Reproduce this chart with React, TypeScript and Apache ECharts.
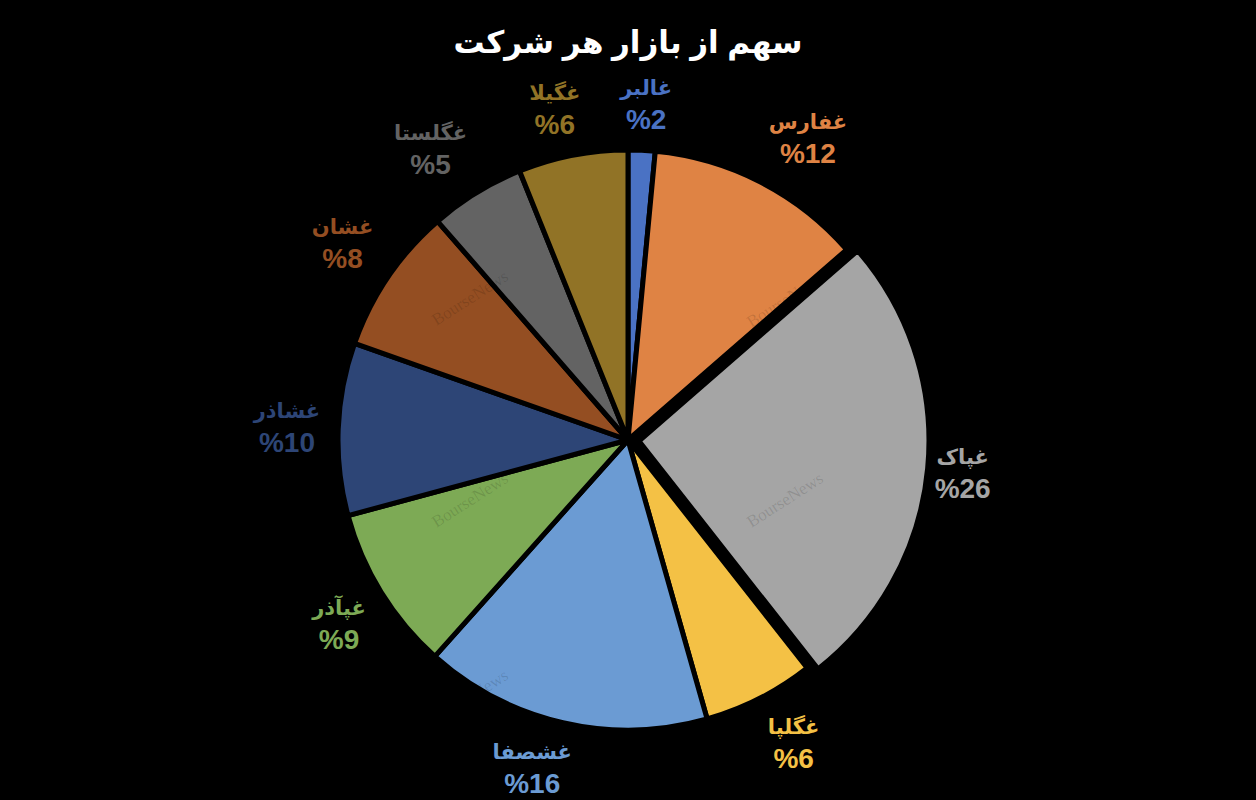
import React, { useEffect, useRef } from "react";
import * as echarts from "echarts";

const categories = ["غالبر", "غفارس", "غپاک", "غگلپا", "غشصفا", "غپآذر", "غشاذر", "غشان", "غگلستا", "غگیلا"];
const shares = [1.5, 12.1, 25.8, 6.2, 16.0, 9.2, 9.6, 8.2, 5.3, 6.1];
const colors = ["#4A72C4", "#DF8344", "#A5A5A5", "#F4C145", "#6B9BD3", "#7DAA55", "#2D4576", "#944E22", "#636363", "#917326"];
const exploded = ["غپاک"];
const titleText = "سهم از بازار هر شرکت";
const watermark = "BourseNews";

export default function App() {
  const ref = useRef<HTMLDivElement>(null);
  useEffect(() => {
    if (!ref.current) return;
    const chart = echarts.init(ref.current, null, { renderer: "svg" });
    const font = "'Liberation Sans', 'DejaVu Sans', Arial, sans-serif";
    const total = shares.reduce((a, b) => a + b, 0);
    const midAngles: number[] = [];
    let acc = 0;
    shares.forEach((v) => {
      midAngles.push(((acc + v / 2) / total) * Math.PI * 2);
      acc += v;
    });
    const clamp = (x: number) => Math.max(-1, Math.min(1, x));
    const mainData = categories.map((name, i) => ({
      name,
      value: shares[i],
      selected: exploded.includes(name),
      itemStyle: { color: colors[i] },
    }));
    const labelData = categories.map((name, i) => ({
      name,
      value: shares[i],
      label: { rich: { n: { color: colors[i] }, p: { color: colors[i] } } },
    }));
    const wm = [
      [470, 298],
      [785, 300],
      [470, 500],
      [785, 500],
      [470, 697],
      [785, 697],
    ].map(([x, y]) => ({
      type: "text",
      x,
      y,
      rotation: 0.57,
      z: 100,
      silent: true,
      style: {
        text: watermark,
        fill: "rgba(0,0,0,0.13)",
        font: "17px 'Liberation Serif', 'DejaVu Serif', serif",
        align: "center",
        verticalAlign: "middle",
      },
    }));
    chart.setOption({
      animation: false,
      backgroundColor: "#000000",
      title: {
        text: titleText,
        left: "center",
        top: 22,
        textStyle: { color: "#ffffff", fontSize: 31, fontWeight: "bold", fontFamily: font },
      },
      graphic: wm,
      series: [
        {
          type: "pie",
          center: [628, 440],
          radius: [0, 290],
          startAngle: 90,
          clockwise: true,
          selectedMode: "single",
          selectedOffset: 11,
          label: { show: false },
          labelLine: { show: false },
          itemStyle: { borderColor: "#000000", borderWidth: 5 },
          select: { itemStyle: { borderColor: "#000000", borderWidth: 5 } },
          emphasis: { disabled: true },
          data: mainData,
        },
        {
          type: "pie",
          center: [628, 440],
          radius: [304, 306],
          startAngle: 90,
          clockwise: true,
          silent: true,
          itemStyle: { color: "transparent" },
          emphasis: { disabled: true },
          labelLine: { show: false },
          label: {
            show: true,
            position: "inside",
            align: "center",
            formatter: (p: any) => `{n|${p.name}}\n{p|%${Math.round(p.percent)}}`,
            rich: {
              n: { fontFamily: font, fontSize: 21, fontWeight: "bold", lineHeight: 31, align: "center" },
              p: { fontFamily: font, fontSize: 28, fontWeight: "bold", lineHeight: 33, align: "center" },
            },
          },
          labelLayout: (params: any) => {
            const t = midAngles[params.dataIndex];
            const hw = params.labelRect.width / 2;
            const hh = params.labelRect.height / 2;
            return {
              dx: hw * clamp(Math.sin(t) * 3),
              dy: -hh * clamp(Math.cos(t) * 1.5),
            };
          },
          data: labelData,
        },
      ],
    });
    return () => chart.dispose();
  }, []);
  return (
    <div
      ref={ref}
      style={{ position: "fixed", left: 0, top: 0, width: 1256, height: 800 }}
    />
  );
}
